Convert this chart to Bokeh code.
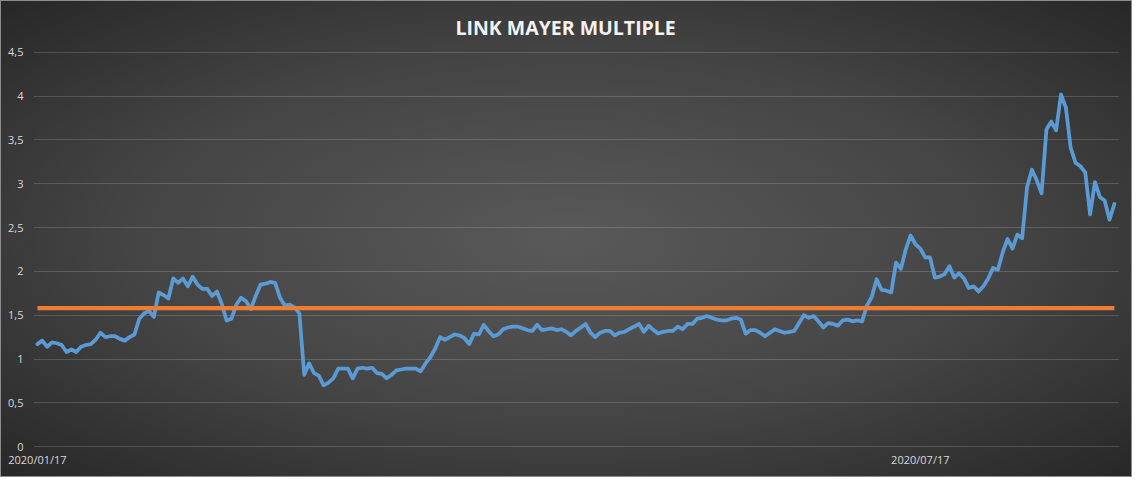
import pandas as pd
from bokeh.plotting import figure
from bokeh.models import Range1d, FixedTicker, CustomJSTickFormatter
from bokeh.embed import file_html
from bokeh.resources import INLINE

chart_title = "LINK MAYER MULTIPLE"
start_date = "2020-01-17"
x_tick_dates = ["2020-01-17", "2020-07-17"]
y_ticks = [0, 0.5, 1, 1.5, 2, 2.5, 3, 3.5, 4, 4.5]
threshold = 1.58

mayer_multiple = [
    1.17, 1.21, 1.14, 1.19, 1.18, 1.16, 1.08, 1.11, 1.08, 1.14,
    1.16, 1.17, 1.22, 1.30, 1.25, 1.26, 1.26, 1.23, 1.21, 1.25,
    1.28, 1.46, 1.52, 1.55, 1.48, 1.76, 1.73, 1.69, 1.92, 1.87,
    1.92, 1.83, 1.94, 1.85, 1.80, 1.80, 1.72, 1.77, 1.63, 1.44,
    1.46, 1.62, 1.70, 1.66, 1.57, 1.72, 1.85, 1.86, 1.88, 1.87,
    1.70, 1.61, 1.62, 1.59, 1.52, 0.82, 0.95, 0.84, 0.81, 0.70,
    0.73, 0.78, 0.89, 0.89, 0.89, 0.78, 0.89, 0.90, 0.89, 0.90,
    0.84, 0.83, 0.78, 0.82, 0.87, 0.88, 0.89, 0.89, 0.89, 0.86,
    0.95, 1.02, 1.12, 1.25, 1.22, 1.25, 1.28, 1.27, 1.24, 1.17,
    1.29, 1.28, 1.39, 1.32, 1.26, 1.28, 1.34, 1.36, 1.37, 1.37,
    1.35, 1.33, 1.32, 1.39, 1.33, 1.34, 1.35, 1.33, 1.34, 1.31,
    1.27, 1.32, 1.36, 1.40, 1.30, 1.25, 1.30, 1.32, 1.32, 1.27,
    1.30, 1.31, 1.34, 1.37, 1.40, 1.31, 1.38, 1.33, 1.29, 1.31,
    1.32, 1.32, 1.37, 1.34, 1.40, 1.40, 1.46, 1.47, 1.49, 1.47,
    1.45, 1.44, 1.44, 1.46, 1.47, 1.45, 1.29, 1.33, 1.33, 1.30,
    1.26, 1.30, 1.34, 1.32, 1.30, 1.31, 1.32, 1.41, 1.50, 1.47,
    1.49, 1.43, 1.36, 1.41, 1.40, 1.38, 1.44, 1.45, 1.43, 1.44,
    1.43, 1.61, 1.71, 1.91, 1.79, 1.78, 1.76, 2.10, 2.03, 2.25,
    2.41, 2.31, 2.26, 2.16, 2.16, 1.93, 1.94, 1.97, 2.06, 1.93,
    1.98, 1.92, 1.81, 1.83, 1.77, 1.83, 1.92, 2.04, 2.02, 2.22,
    2.37, 2.26, 2.42, 2.38, 2.96, 3.16, 3.04, 2.89, 3.62, 3.71,
    3.61, 4.02, 3.87, 3.41, 3.24, 3.20, 3.13, 2.65, 3.02, 2.85,
    2.81, 2.59, 2.77,
]

dates = pd.date_range(start_date, periods=len(mayer_multiple), freq="D")
day = pd.Timedelta(days=1)

p = figure(
    width=1132, height=477,
    x_axis_type="datetime",
    x_range=Range1d(dates[0] - 0.81 * day, dates[0] + 223.06 * day),
    y_range=Range1d(-0.01, 4.51),
    output_backend="svg", toolbar_location=None,
    min_border_left=33, min_border_right=13,
    min_border_top=51, min_border_bottom=30,
)
p.background_fill_color = None
p.border_fill_color = None
p.outline_line_color = None
p.styles = {
    "background": "radial-gradient(ellipse farthest-corner at 50% 50%, #595959 0%, #444444 55%, #272727 100%)",
    "box-shadow": "inset 0 0 0 1px #8c8c8c",
}

p.title.text = chart_title
p.title.align = "left"
p.title.offset = 422
p.title.vertical_align = "top"
p.title.text_line_height = 0.8
p.title.text_font = "Open Sans"
p.title.text_font_style = "bold"
p.title.text_font_size = "19.5px"
p.title.text_color = "#f2f2f2"
p.title.standoff = 17

label_color = "#d9d9d9"
for ax in (p.xaxis[0], p.yaxis[0]):
    ax.axis_line_color = None
    ax.major_tick_line_color = None
    ax.minor_tick_line_color = None
    ax.major_tick_out = 0
    ax.major_tick_in = 0
    ax.minor_tick_out = 0
    ax.major_label_text_color = label_color
    ax.major_label_text_font = "Open Sans"
    ax.major_label_text_font_size = "11px"

p.xaxis[0].ticker = FixedTicker(ticks=[pd.Timestamp(d).value / 1e6 for d in x_tick_dates])
p.xaxis[0].formatter = CustomJSTickFormatter(code="""
const d = new Date(tick);
return d.getUTCFullYear() + '/' + String(d.getUTCMonth() + 1).padStart(2, '0') + '/' + String(d.getUTCDate()).padStart(2, '0');
""")
p.xaxis[0].major_label_standoff = 4

p.yaxis[0].ticker = FixedTicker(ticks=y_ticks)
p.yaxis[0].formatter = CustomJSTickFormatter(code="return String(tick).replace('.', ',');")
p.yaxis[0].major_label_standoff = 10

p.xgrid.grid_line_color = None
p.ygrid.grid_line_color = "#ffffff"
p.ygrid.grid_line_alpha = 0.16
p.ygrid.ticker = FixedTicker(ticks=y_ticks)

p.line(dates, mayer_multiple, line_color="#5b9bd5", line_width=3.75,
       line_join="round", line_cap="round")
p.line([dates[0], dates[-1]], [threshold, threshold], line_color="#ed7d31",
       line_width=4.25)

open("out.html", "w").write(file_html(p, INLINE))
